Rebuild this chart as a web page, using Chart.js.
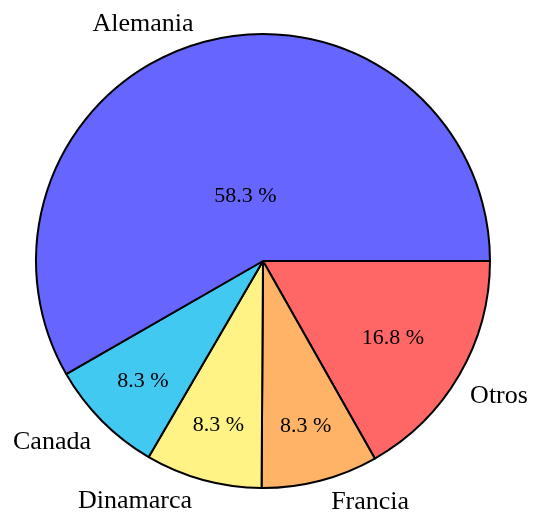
<!DOCTYPE html>
<html lang="es">
<head>
<meta charset="utf-8">
<title>Pie</title>
<script src="https://cdn.jsdelivr.net/npm/chart.js@4.4.1/dist/chart.umd.min.js"></script>
<style>
  html, body { margin: 0; padding: 0; background: #fff; }
  canvas { display: block; }
</style>
</head>
<body>
<canvas id="pieChart" width="533" height="513"></canvas>
<script>
const countries = ["Alemania", "Canada", "Dinamarca", "Francia", "Otros"];
const shares = [58.3, 8.3, 8.3, 8.3, 16.8];
const sliceColors = ["#6666FF", "#42C9F2", "#FFF385", "#FFB366", "#FF6666"];

// slices run counter-clockwise from 3 o'clock; Chart.js goes clockwise,
// so hand them over in reverse
const order = countries.map((_, i) => i).reverse();

const sliceLabels = {
  id: "sliceLabels",
  afterDatasetsDraw(chart, args, opts) {
    const ctx = chart.ctx;
    const arcs = chart.getDatasetMeta(0).data;
    ctx.save();
    ctx.fillStyle = "#000";
    arcs.forEach((arc, i) => {
      const idx = order[i];
      const { x, y, startAngle, endAngle, outerRadius } =
        arc.getProps(["x", "y", "startAngle", "endAngle", "outerRadius"], true);
      const mid = (startAngle + endAngle) / 2;
      const span = (endAngle - startAngle) * 180 / Math.PI;
      const cos = Math.cos(mid), sin = Math.sin(mid);

      // percentage, pulled toward the centre on wide slices
      const f = Math.max(Math.min((span - 10) / 110 * -0.3, 0), -0.5) + 0.8;
      ctx.font = opts.valueFont;
      const txt = shares[idx].toFixed(1) + " %";
      const m = ctx.measureText(txt);
      ctx.textAlign = "center";
      ctx.textBaseline = "alphabetic";
      ctx.fillText(txt, x + cos * f * outerRadius,
        y + sin * f * outerRadius + m.actualBoundingBoxAscent / 2);

      // category name hung off the rim, corner facing the pie
      ctx.font = opts.labelFont;
      const name = countries[idx];
      const px = x + cos * outerRadius, py = y + sin * outerRadius;
      const gap = opts.gap;
      ctx.textAlign = cos < 0 ? "right" : "left";
      const tx = cos < 0 ? px - gap : px + gap;
      const ty = sin < 0
        ? py - gap
        : py + gap + ctx.measureText(name).actualBoundingBoxAscent;
      ctx.fillText(name, tx, ty);
    });
    ctx.restore();
  }
};

new Chart(document.getElementById("pieChart"), {
  type: "pie",
  data: {
    labels: order.map(i => countries[i]),
    datasets: [{
      data: order.map(i => shares[i]),
      backgroundColor: order.map(i => sliceColors[i]),
      borderColor: "#000",
      borderWidth: 2,
      hoverOffset: 0
    }]
  },
  options: {
    responsive: false,
    animation: false,
    rotation: 90,
    layout: { padding: { left: 35, right: 42, top: 33, bottom: 24 } },
    plugins: {
      legend: { display: false },
      tooltip: { enabled: false },
      sliceLabels: {
        valueFont: "22px 'Liberation Serif'",
        labelFont: "26px 'Liberation Serif'",
        gap: 11
      }
    }
  },
  plugins: [sliceLabels]
});
</script>
</body>
</html>
